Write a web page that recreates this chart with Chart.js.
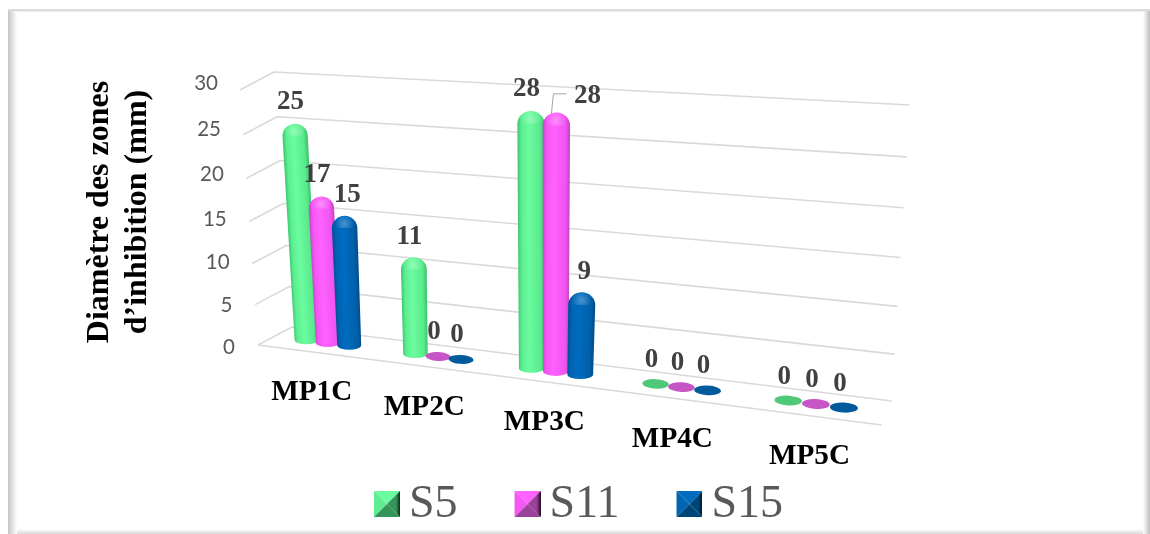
<!DOCTYPE html>
<html><head><meta charset="utf-8">
<script src="https://cdn.jsdelivr.net/npm/chart.js@4"></script>
<style>html,body{margin:0;padding:0;background:#fff}canvas{display:block}</style>
</head><body><canvas id="c" width="1150" height="534"></canvas>
<script>
const categories = ['MP1C','MP2C','MP3C','MP4C','MP5C'];
const S5  = [25,11,28,0,0];
const S11 = [17,0,28,0,0];
const S15 = [15,0,9,0,0];
const yTicks = [0,5,10,15,20,25,30];
const yTitle = ['Diamètre des zones','d’inhibition (mm)'];

const palette = [
 {base:'#66F799',stops:['#3ec872','#5cee90','#6afc9e','#58ea8c','#3dc26e'],flat:'#4FC878',dark:'#35945a',deep:'#0d2a1a'},
 {base:'#FF5CFF',stops:['#cc48cc','#f557f5','#ff62ff','#f055f0','#c645c6'],flat:'#C655C6',dark:'#9a429a',deep:'#2a0f2a'},
 {base:'#0068B8',stops:['#00509a','#0064b2','#006cc0','#005fa8','#004c8c'],flat:'#005A9C',dark:'#004578',deep:'#00101e'}
];

function bevel(c){
  const pad=4,n=26,k=13;
  const m=document.createElement('canvas');m.width=n+pad;m.height=n+2;
  const g=m.getContext('2d');g.translate(pad,0);
  const tri=(pts,col)=>{g.fillStyle=col;g.beginPath();pts.forEach((p,i)=>i?g.lineTo(p[0],p[1]):g.moveTo(p[0],p[1]));g.closePath();g.fill();};
  tri([[0,0],[n,0],[k,k]],c.stops[2]);
  tri([[0,0],[0,n],[k,k]],c.stops[1]);
  tri([[0,n],[n,n],[k,k]],c.dark);
  const r=g.createLinearGradient(k,0,n,0);
  r.addColorStop(0,c.dark);r.addColorStop(.7,c.dark);r.addColorStop(1,c.deep);
  tri([[n,0],[n,n],[k,k]],r);
  return m;
}
const markers = palette.map(bevel);

// perspective of the Excel 3-D plot box
const fs = s => 0.848*s/(1-0.1516*s);
const fh = t => 0.94*t/(1-0.06*t);
function project(s,t,d){
  const q=fs(s),h=fh(t);
  const lx=292-18*h, ly=327-255*h, rx=892+18*h, ry=401-296*h;
  const ox=-34+24*q, oy=18+6*q;
  return {x:lx+(rx-lx)*q+ox*d, y:ly+(ry-ly)*q+oy*d};
}

const box3d = {
  id:'box3d',
  beforeDraw(chart){
    const c=chart.ctx;
    c.save();
    c.fillStyle='#fff';c.fillRect(0,0,1150,534);
    c.fillStyle='#dcdcdc';c.fillRect(8,9,1142,2.5);
    let g=c.createLinearGradient(8,0,17,0);
    g.addColorStop(0,'#c4c4c4');g.addColorStop(.35,'#dadada');g.addColorStop(1,'#ffffff');
    c.fillStyle=g;c.fillRect(8,11,9,523);
    g=c.createLinearGradient(1143,0,1150,0);
    g.addColorStop(0,'#ffffff');g.addColorStop(1,'#bdbdbd');
    c.fillStyle=g;c.fillRect(1143,11,7,523);
    g=c.createLinearGradient(0,529,0,534);
    g.addColorStop(0,'#ffffff');g.addColorStop(1,'#d8d8d8');
    c.fillStyle=g;c.fillRect(17,529,1126,5);
    c.restore();
  },
  beforeDatasetsDraw(chart){
    const c=chart.ctx,a=chart.chartArea,Y=chart.scales.y;
    const tOf=v=>(Y.getPixelForValue(0)-Y.getPixelForValue(v))/(Y.getPixelForValue(0)-Y.getPixelForValue(30));
    c.save();
    c.strokeStyle='#d9d9d9';c.lineWidth=1.6;c.lineJoin='round';
    yTicks.forEach(v=>{
      const t=tOf(v),p0=project(0,t,1),p1=project(0,t,0),p2=project(1,t,0);
      c.beginPath();c.moveTo(p0.x,p0.y);c.lineTo(p1.x,p1.y);c.lineTo(p2.x,p2.y);c.stroke();
    });
    const f0=project(0,0,1),f1=project(1,0,1);
    c.beginPath();c.moveTo(f0.x,f0.y);c.lineTo(f1.x,f1.y);c.stroke();
    // value axis labels
    c.fillStyle='#595959';c.font='20.5px Lato';c.textAlign='right';c.textBaseline='middle';
    yTicks.forEach(v=>{
      const h=fh(tOf(v));
      c.fillText(String(v),235-17*h,347-264*h);
    });
    // category labels
    c.fillStyle='#000';c.font='bold 29.2px "Liberation Serif"';c.textAlign='center';
    categories.forEach((n,i)=>{
      const s=(chart.scales.x.getPixelForValue(i)-a.left)/a.width;
      const p=project(s,0,1);
      c.fillText(n,p.x,p.y+41);
    });
    // axis title
    c.font='bold 32px "Liberation Serif"';
    c.save();c.translate(100,212);c.rotate(-Math.PI/2);c.fillText(yTitle[0],0,0);c.restore();
    c.save();c.translate(138,212);c.rotate(-Math.PI/2);c.fillText(yTitle[1],0,0);c.restore();

    // bars, in the perspective of the plot box
    const labels=[];
    chart.data.datasets.forEach((ds,di)=>{
      const meta=chart.getDatasetMeta(di),col=palette[di];
      meta.data.forEach((bar,i)=>{
        const v=ds.data[i];
        const s=(bar.x-a.left)/a.width, sw=bar.width/a.width;
        const t=tOf(v);
        const b=project(s,0,.5), tp=project(s,t,.5);
        tp.x+=Math.min(2,t*5);
        const widthAt=tt=>{const l=project(s-sw/2,tt,.5),r=project(s+sw/2,tt,.5);return (r.x-l.x)*.6+11;};
        const hb=widthAt(0)/2;
        if(v===0){
          c.fillStyle=col.flat;c.beginPath();c.ellipse(b.x,b.y,hb,hb*.36,0.05,0,2*Math.PI);c.fill();
          labels.push({v,x:b.x-4,y:b.y-24});
          return;
        }
        const ht=widthAt(t)/2+.5;
        const domeH=ht*.95, topY=tp.y-2.5-2*t, ty=topY+domeH;
        const mx=(b.x+tp.x)/2,my=(b.y+ty)/2,dx=b.x-tp.x,dy=b.y-ty,L=Math.hypot(dx,dy);
        const nx=dy/L,ny=-dx/L,hm=(hb+ht)/2;
        const g=c.createLinearGradient(mx-nx*hm,my-ny*hm,mx+nx*hm,my+ny*hm);
        [0,.14,.42,.84,1].forEach((o,k)=>g.addColorStop(o,col.stops[k]));
        c.fillStyle=g;c.beginPath();
        c.moveTo(tp.x-ht,ty);
        c.ellipse(tp.x,ty,ht,domeH,0,Math.PI,2*Math.PI);
        c.lineTo(b.x+hb,b.y);
        c.ellipse(b.x,b.y,hb,hb*.36,0,0,Math.PI);
        c.closePath();c.fill();
        const r=c.createRadialGradient(tp.x,ty-domeH*.35,0,tp.x,ty-domeH*.35,ht*.75);
        r.addColorStop(0,'rgba(255,255,255,.28)');r.addColorStop(1,'rgba(255,255,255,0)');
        c.fillStyle=r;c.beginPath();c.ellipse(tp.x,ty,ht,domeH,0,Math.PI,2*Math.PI);c.fill();
        if(di===1&&v===28){
          labels.push({v,x:tp.x+31,y:tp.y-21,leader:[[tp.x-5,tp.y-3],[tp.x-3,tp.y-23],[tp.x+10,tp.y-23]]});
        } else {
          labels.push({v,x:tp.x+(di===2?2.5:-4.5),y:tp.y-22-5*t});
        }
      });
    });
    // value labels
    c.font='bold 27px "Liberation Serif"';c.fillStyle='#404040';
    labels.forEach(l=>{
      if(l.leader){
        c.strokeStyle='#a6a6a6';c.lineWidth=1;c.beginPath();
        l.leader.forEach((p,i)=>i?c.lineTo(p[0],p[1]):c.moveTo(p[0],p[1]));c.stroke();
      }
      c.fillText(String(l.v),l.x,l.y);
    });
    c.restore();
    return false; // the flat default rectangles are replaced by the cylinders above
  }
};

new Chart(document.getElementById('c'),{
  type:'bar',
  data:{labels:categories,datasets:[
    {label:'S5',data:S5,backgroundColor:palette[0].base},
    {label:'S11',data:S11,backgroundColor:palette[1].base},
    {label:'S15',data:S15,backgroundColor:palette[2].base}
  ]},
  options:{
    responsive:false,animation:false,
    layout:{padding:{left:99,right:82,top:60,bottom:-4}},
    datasets:{bar:{categoryPercentage:.6,barPercentage:1}},
    scales:{
      x:{grid:{display:false},border:{display:false},ticks:{display:false}},
      y:{min:0,max:30,grid:{display:false},border:{display:false},ticks:{display:false,stepSize:5}}
    },
    plugins:{
      title:{display:false},tooltip:{enabled:false},
      legend:{position:'bottom',labels:{
        usePointStyle:true,pointStyleWidth:2,boxHeight:26,padding:67,
        font:{family:'"Liberation Serif"',size:46},color:'#595959',
        generateLabels(ch){return ch.data.datasets.map((d,i)=>({text:d.label,datasetIndex:i,pointStyle:markers[i],fontColor:'#595959',lineWidth:0,hidden:false}));}
      }}
    }
  },
  plugins:[box3d]
});
</script></body></html>
